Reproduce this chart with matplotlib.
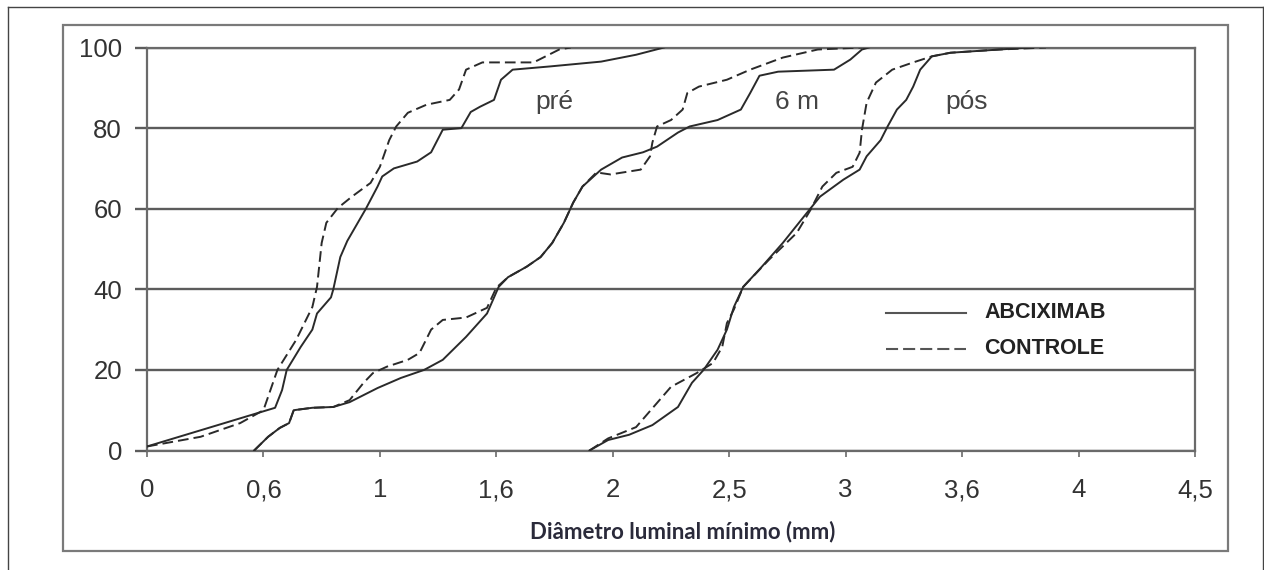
import matplotlib
matplotlib.use('Agg')
import matplotlib.pyplot as plt
from matplotlib.lines import Line2D

# ---------------- data (x in axis positions: tick i at 0.5*i) ----------------
tick_pos = [0, 0.5, 1, 1.5, 2, 2.5, 3, 3.5, 4, 4.5]
tick_labels = ['0', '0,6', '1', '1,6', '2', '2,5', '3', '3,6', '4', '4,5']
y_ticks = [0, 20, 40, 60, 80, 100]

pre_abc_x = [0.00, 0.55, 0.58, 0.60, 0.66, 0.71, 0.73, 0.79, 0.80, 0.83, 0.86, 0.94, 0.99, 1.01,
             1.06, 1.16, 1.22, 1.27, 1.35, 1.39, 1.43, 1.49, 1.52, 1.57, 1.73, 1.95, 2.10, 2.22]
pre_abc_y = [1, 10.6, 15, 20, 25.7, 30, 34, 38, 40, 48, 52, 60, 65.5, 68,
             70, 71.7, 74, 79.6, 80, 84, 85.3, 87, 92, 94.5, 95.3, 96.5, 98.2, 100]

pre_ctl_x = [0.00, 0.23, 0.40, 0.50, 0.53, 0.56, 0.64, 0.71, 0.73, 0.75, 0.77, 0.82, 0.88,
             0.96, 1.00, 1.04, 1.07, 1.12, 1.20, 1.30, 1.34, 1.37, 1.44, 1.66, 1.77, 1.82]
pre_ctl_y = [1, 3.4, 6.8, 10, 15, 20, 27.4, 35.6, 40.6, 51.5, 56.5, 60.2, 63,
             66.4, 70.4, 77, 80.4, 83.8, 85.8, 87, 89.6, 94.5, 96.3, 96.3, 99.5, 100]

m6_abc_x = [0.46, 0.52, 0.57, 0.61, 0.63, 0.71, 0.80, 0.87, 0.99, 1.09, 1.19, 1.27, 1.37, 1.46,
            1.51, 1.55, 1.63, 1.69, 1.74, 1.79, 1.83, 1.87, 1.95, 2.04, 2.13, 2.19, 2.28, 2.33,
            2.45, 2.55, 2.59, 2.63, 2.71, 2.95, 3.02, 3.07, 3.10]
m6_abc_y = [0, 3.4, 5.6, 6.8, 10, 10.6, 10.8, 12, 15.5, 18, 20, 22.5, 28.2, 34,
            40.6, 43, 45.6, 48, 51.5, 56.5, 61.5, 65.5, 69.7, 72.7, 74, 75.4, 78.9, 80.4,
            82, 84.6, 88.7, 93, 94, 94.5, 97, 99.5, 100]

m6_ctl_x = [0.46, 0.52, 0.57, 0.61, 0.63, 0.71, 0.80, 0.87, 0.93, 0.97, 1.03, 1.12, 1.17, 1.22,
            1.27, 1.37, 1.46, 1.50, 1.55, 1.63, 1.69, 1.74, 1.79, 1.83, 1.87, 1.93, 1.99, 2.12,
            2.16, 2.17, 2.19, 2.25, 2.30, 2.32, 2.37, 2.49, 2.59, 2.73, 2.88, 3.07]
m6_ctl_y = [0, 3.4, 5.6, 6.8, 10, 10.6, 10.8, 12.5, 16.8, 19.2, 20.8, 22.5, 24.2, 30,
            32.4, 33, 35.4, 40.4, 43, 45.6, 48, 51.5, 56.5, 61.5, 65.5, 69, 68.5, 69.7,
            73, 76.4, 80.4, 82, 84.6, 88.7, 90.3, 92, 94.5, 97.5, 99.5, 100]

pos_abc_x = [1.90, 1.98, 2.07, 2.17, 2.28, 2.34, 2.39, 2.45, 2.49, 2.52, 2.56, 2.64, 2.73, 2.82,
             2.89, 2.99, 3.06, 3.09, 3.15, 3.18, 3.22, 3.26, 3.29, 3.32, 3.37, 3.45, 3.66, 3.79]
pos_abc_y = [0, 2.6, 3.9, 6.3, 10.8, 16.8, 20, 25, 30, 35.6, 40.6, 45.6, 51.5, 58,
             63, 67.2, 69.7, 73, 77, 80.4, 84.6, 87, 90.3, 94.5, 97.8, 98.7, 99.5, 100]

pos_ctl_x = [1.90, 1.98, 2.10, 2.19, 2.25, 2.36, 2.43, 2.47, 2.49, 2.52, 2.56, 2.67, 2.79, 2.85,
             2.90, 2.96, 3.03, 3.06, 3.07, 3.09, 3.13, 3.20, 3.29, 3.37, 3.45, 3.66, 3.86]
pos_ctl_y = [0, 3, 5.8, 11.8, 15.8, 19.2, 21.7, 25.7, 31.6, 35, 40.6, 47.3, 54, 59.8,
             65.5, 68.9, 70.4, 73.9, 79.6, 86.3, 91.3, 94.5, 96.3, 97.8, 98.7, 99.5, 100]

group_labels = ['pré', '6 m', 'pós']
group_label_x = [1.75, 2.79, 3.52]
group_label_y = [86.6, 86.6, 86.6]
legend_labels = ['ABCIXIMAB', 'CONTROLE']
xlabel = 'Diâmetro luminal mínimo (mm)'

# ---------------- figure ----------------
W, H = 1264, 570
fig = plt.figure(figsize=(W / 100, H / 100), dpi=100)
fig.patch.set_facecolor('white')

def fx(px):
    return px / W

def fy(py):
    return 1 - py / H

# frames
fig.add_artist(Line2D([fx(8), fx(8)], [fy(7), 0], transform=fig.transFigure, color='#444444', lw=1.0))
fig.add_artist(Line2D([fx(8), fx(1263)], [fy(7), fy(7)], transform=fig.transFigure, color='#444444', lw=1.0))
fig.add_artist(Line2D([fx(1263), fx(1263)], [fy(7), 0], transform=fig.transFigure, color='#444444', lw=1.0))
fig.add_artist(plt.Rectangle((fx(63), fy(551)), fx(1228) - fx(63), fy(25) - fy(551),
                             transform=fig.transFigure, fill=False, edgecolor='#7a7a7a', lw=1.6))

ax = fig.add_axes([fx(147), fy(450.5), fx(1195) - fx(147), fy(47.5) - fy(450.5)])
ax.set_xlim(0, 4.5)
ax.set_ylim(0, 100)

grid_c = '#5c5c5c'
ax.set_yticks(y_ticks)
ax.set_yticklabels([str(v) for v in y_ticks])
ax.set_xticks(tick_pos)
ax.set_xticklabels(tick_labels)
ax.yaxis.grid(True, color=grid_c, lw=1.7, zorder=1)
for s in ax.spines.values():
    s.set_color('#6a6a6a')
    s.set_linewidth(1.6)
ax.tick_params(axis='y', direction='out', length=9, width=1.7, color=grid_c, pad=9,
               labelsize=18.5, labelcolor='#333333')
ax.tick_params(axis='x', direction='out', length=4, width=1.2, color='#6a6a6a', pad=16,
               labelsize=18.5, labelcolor='#333333')
for lab in ax.get_xticklabels() + ax.get_yticklabels():
    lab.set_family('Liberation Sans')

line_c = '#2a2a2a'
lw = 1.4
dash = (5.5, 2.6)
ax.plot(pre_abc_x, pre_abc_y, color=line_c, lw=lw, zorder=3)
ax.plot(pre_ctl_x, pre_ctl_y, color=line_c, lw=lw, dashes=dash, zorder=3)
ax.plot(m6_abc_x, m6_abc_y, color=line_c, lw=lw, zorder=3)
ax.plot(m6_ctl_x, m6_ctl_y, color=line_c, lw=lw, dashes=dash, zorder=3)
ax.plot(pos_abc_x, pos_abc_y, color=line_c, lw=lw, zorder=3)
ax.plot(pos_ctl_x, pos_ctl_y, color=line_c, lw=lw, dashes=dash, zorder=3)

for t, x, y in zip(group_labels, group_label_x, group_label_y):
    ax.text(x, y, t, ha='center', va='center', fontsize=19, color='#444444',
            family='Liberation Sans', zorder=4)

# legend
fig.add_artist(Line2D([fx(886), fx(966)], [fy(313), fy(313)], transform=fig.transFigure,
                      color='#555555', lw=1.5))
fig.add_artist(Line2D([fx(886), fx(966)], [fy(349), fy(349)], transform=fig.transFigure,
                      color='#555555', lw=1.5, dashes=(5.8, 2.4)))
fig.text(fx(984), fy(313), legend_labels[0], ha='left', va='center', fontsize=15.5,
         fontweight='bold', family='Liberation Sans', color='#222222')
fig.text(fx(984), fy(349), legend_labels[1], ha='left', va='center', fontsize=15.5,
         fontweight='bold', family='Liberation Sans', color='#222222')

fig.text(fx(683), fy(532), xlabel, ha='center', va='center', fontsize=16,
         fontweight='bold', family=['Lato', 'DejaVu Sans'], color='#2a2a3a')

fig.savefig('out.png', dpi=100, facecolor='white')
